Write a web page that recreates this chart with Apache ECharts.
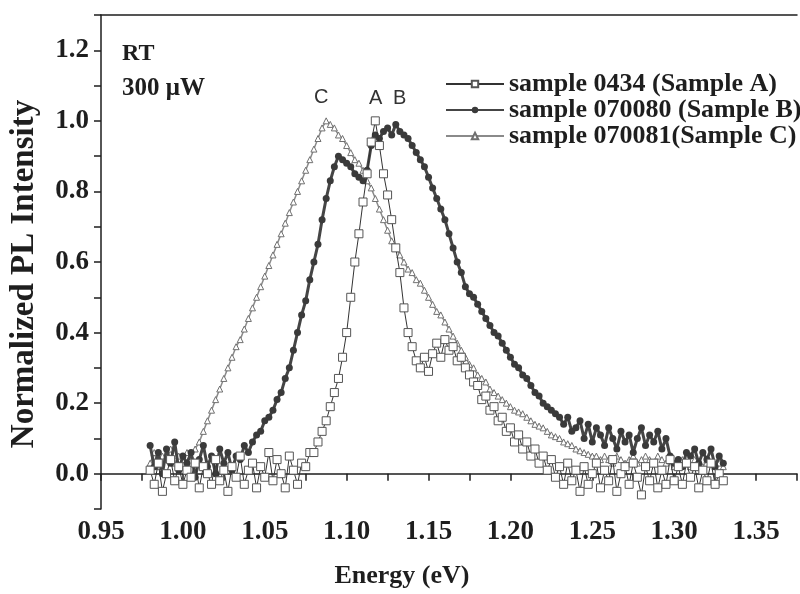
<!DOCTYPE html>
<html>
<head>
<meta charset="utf-8">
<script src="https://cdn.jsdelivr.net/npm/echarts@6/dist/echarts.min.js"></script>
<style>
  html, body { margin: 0; padding: 0; background: #fff; }
  #main { width: 800px; height: 594px; }
</style>
</head>
<body>
<div id="main"></div>
<script>
// photon energy (eV), shared by the three spectra
var energy = [
  0.980, 0.9825, 0.985, 0.9875, 0.990, 0.9925, 0.995, 0.9975, 1.000, 1.0025,
  1.005, 1.0075, 1.010, 1.0125, 1.015, 1.0175, 1.020, 1.0225, 1.025, 1.0275,
  1.030, 1.0325, 1.035, 1.0375, 1.040, 1.0425, 1.045, 1.0475, 1.050, 1.0525,
  1.055, 1.0575, 1.060, 1.0625, 1.065, 1.0675, 1.070, 1.0725, 1.075, 1.0775,
  1.080, 1.0825, 1.085, 1.0875, 1.090, 1.0925, 1.095, 1.0975, 1.100, 1.1025,
  1.105, 1.1075, 1.110, 1.1125, 1.115, 1.1175, 1.120, 1.1225, 1.125, 1.1275,
  1.130, 1.1325, 1.135, 1.1375, 1.140, 1.1425, 1.145, 1.1475, 1.150, 1.1525,
  1.155, 1.1575, 1.160, 1.1625, 1.165, 1.1675, 1.170, 1.1725, 1.175, 1.1775,
  1.180, 1.1825, 1.185, 1.1875, 1.190, 1.1925, 1.195, 1.1975, 1.200, 1.2025,
  1.205, 1.2075, 1.210, 1.2125, 1.215, 1.2175, 1.220, 1.2225, 1.225, 1.2275,
  1.230, 1.2325, 1.235, 1.2375, 1.240, 1.2425, 1.245, 1.2475, 1.250, 1.2525,
  1.255, 1.2575, 1.260, 1.2625, 1.265, 1.2675, 1.270, 1.2725, 1.275, 1.2775,
  1.280, 1.2825, 1.285, 1.2875, 1.290, 1.2925, 1.295, 1.2975, 1.300, 1.3025,
  1.305, 1.3075, 1.310, 1.3125, 1.315, 1.3175, 1.320, 1.3225, 1.325, 1.3275,
  1.330
];

// sample 0434 (Sample A) - open squares
var sampleA = [
  0.01, -0.03, 0.03, -0.05, 0.00, 0.04, -0.02, 0.02, -0.03, 0.01,
  -0.01, 0.03, -0.04, 0.02, 0.00, -0.03, 0.04, -0.02, 0.01, -0.05,
  0.02, -0.01, 0.05, -0.03, 0.01, 0.03, -0.04, 0.02, -0.01, 0.06,
  -0.02, 0.04, 0.00, -0.04, 0.05, 0.01, -0.03, 0.03, 0.02, 0.06,
  0.06, 0.09, 0.12, 0.15, 0.19, 0.23, 0.27, 0.33, 0.40, 0.50,
  0.60, 0.68, 0.77, 0.85, 0.94, 1.00, 0.93, 0.85, 0.79, 0.72,
  0.64, 0.57, 0.47, 0.40, 0.36, 0.32, 0.30, 0.33, 0.29, 0.34,
  0.37, 0.33, 0.38, 0.35, 0.36, 0.32, 0.33, 0.30, 0.28, 0.26,
  0.25, 0.21, 0.22, 0.18, 0.19, 0.15, 0.16, 0.12, 0.13, 0.09,
  0.11, 0.07, 0.09, 0.05, 0.07, 0.03, 0.05, 0.01, 0.04, -0.01,
  0.02, -0.03, 0.03, -0.02, 0.01, -0.05, 0.02, -0.03, 0.00, 0.03,
  -0.04, 0.01, -0.02, 0.04, -0.05, 0.00, 0.02, -0.03, 0.03, -0.01,
  -0.06, 0.02, -0.02, 0.03, -0.04, 0.01, -0.03, 0.04, -0.02, 0.02,
  -0.03, 0.03, -0.01, 0.02, -0.04, 0.01, -0.02, 0.03, -0.03, 0.00,
  -0.02
];

// sample 070080 (Sample B) - filled circles
var sampleB = [
  0.08, 0.02, 0.06, 0.00, 0.07, 0.03, 0.09, 0.01, 0.05, 0.03,
  0.06, -0.01, 0.04, 0.08, 0.02, 0.05, 0.00, 0.07, 0.03, 0.06,
  0.01, 0.05, 0.04, 0.08, 0.06, 0.09, 0.11, 0.12, 0.15, 0.16,
  0.18, 0.21, 0.23, 0.27, 0.30, 0.35, 0.40, 0.45, 0.49, 0.55,
  0.60, 0.65, 0.72, 0.78, 0.83, 0.87, 0.90, 0.89, 0.88, 0.87,
  0.85, 0.84, 0.83, 0.86, 0.93, 0.96, 0.95, 0.97, 0.98, 0.96,
  0.99, 0.97, 0.96, 0.95, 0.93, 0.91, 0.89, 0.87, 0.84, 0.81,
  0.78, 0.75, 0.72, 0.68, 0.64, 0.60, 0.57, 0.53, 0.51, 0.50,
  0.48, 0.46, 0.44, 0.42, 0.40, 0.39, 0.37, 0.35, 0.33, 0.31,
  0.30, 0.28, 0.27, 0.25, 0.23, 0.22, 0.20, 0.19, 0.18, 0.17,
  0.16, 0.14, 0.16, 0.12, 0.13, 0.15, 0.10, 0.14, 0.09, 0.13,
  0.11, 0.08, 0.13, 0.10, 0.07, 0.12, 0.09, 0.11, 0.06, 0.10,
  0.13, 0.08, 0.11, 0.09, 0.12, 0.07, 0.10, 0.05, 0.03, 0.04,
  0.02, 0.06, 0.05, 0.07, 0.03, 0.06, 0.04, 0.07, 0.02, 0.05,
  0.03
];

// sample 070081 (Sample C) - open triangles
var sampleC = [
  0.03, 0.06, 0.02, 0.05, 0.04, 0.07, 0.03, 0.05, 0.04, 0.06,
  0.05, 0.07, 0.09, 0.12, 0.15, 0.18, 0.21, 0.24, 0.27, 0.30,
  0.33, 0.36, 0.38, 0.41, 0.44, 0.47, 0.50, 0.53, 0.56, 0.59,
  0.62, 0.65, 0.68, 0.71, 0.74, 0.77, 0.80, 0.83, 0.86, 0.89,
  0.92, 0.95, 0.98, 1.00, 0.99, 0.98, 0.96, 0.95, 0.93, 0.91,
  0.89, 0.88, 0.86, 0.83, 0.81, 0.78, 0.75, 0.72, 0.69, 0.66,
  0.64, 0.62, 0.60, 0.58, 0.57, 0.55, 0.54, 0.52, 0.50, 0.48,
  0.46, 0.45, 0.43, 0.41, 0.39, 0.37, 0.35, 0.33, 0.31, 0.30,
  0.28, 0.27, 0.26, 0.24, 0.23, 0.22, 0.21, 0.20, 0.19, 0.18,
  0.175, 0.17, 0.16, 0.15, 0.14, 0.135, 0.13, 0.12, 0.11, 0.105,
  0.10, 0.09, 0.085, 0.08, 0.07, 0.065, 0.06, 0.055, 0.05, 0.05,
  0.04, 0.05, 0.04, 0.03, 0.05, 0.04, 0.03, 0.04, 0.05, 0.03,
  0.04, 0.05, 0.04, 0.03, 0.05, 0.04, 0.03, 0.04, 0.02, 0.03,
  0.04, 0.03, 0.02, 0.04, 0.03, 0.02, 0.04, 0.03, 0.02, 0.03,
  0.02
];

var names = ['sample 0434 (Sample A)', 'sample 070080 (Sample B)', 'sample 070081(Sample C)'];

function pairs(ys) {
  return energy.map(function (e, i) { return [e, ys[i]]; });
}

var serif = '"Liberation Serif", "Times New Roman", serif';
var sans = '"Liberation Sans", Arial, sans-serif';
var ink = '#1e1e1e';

var myChart = echarts.init(document.getElementById('main'));

var option = {
  backgroundColor: '#fff',
  animation: false,
  grid: { left: 100, right: 0, top: 15, bottom: 85 },
  legend: {
    data: names,
    orient: 'vertical',
    left: 440,
    top: 66,
    itemWidth: 58,
    itemHeight: 8,
    itemGap: 0,
    textStyle: { fontFamily: serif, fontWeight: 'bold', fontSize: 26, color: ink, lineHeight: 23 }
  },
  xAxis: [
    {
      type: 'value',
      min: 0.95,
      max: 1.375,
      interval: 0.025,
      name: 'Energy (eV)',
      nameLocation: 'middle',
      nameGap: 54,
      nameTextStyle: { fontFamily: serif, fontWeight: 'bold', fontSize: 26, color: ink, padding: [0, 94, 0, 0] },
      axisLine: { lineStyle: { color: ink, width: 1.5 } },
      axisTick: { inside: false, length: 7, lineStyle: { color: ink, width: 1.5 } },
      axisLabel: {
        margin: 10,
        fontFamily: serif, fontWeight: 'bold', fontSize: 27, color: ink,
        formatter: function (v) {
          return Math.round(v * 1000) % 50 === 0 ? v.toFixed(2) : '';
        }
      },
      splitLine: { show: false }
    },
    {
      type: 'value',
      position: 'top',
      min: 0.95,
      max: 1.375,
      axisLine: { show: true, lineStyle: { color: ink, width: 1.5 } },
      axisTick: { show: false },
      axisLabel: { show: false },
      splitLine: { show: false }
    }
  ],
  yAxis: {
    type: 'value',
    min: -0.1,
    max: 1.3,
    interval: 0.1,
    name: 'Normalized PL Intensity',
    nameLocation: 'middle',
    nameGap: 60,
    nameTextStyle: { fontFamily: serif, fontWeight: 'bold', fontSize: 33, color: ink, padding: [0, 24, 0, 0] },
    axisLine: { show: true, lineStyle: { color: ink, width: 1.5 } },
    axisTick: { inside: false, length: 7, lineStyle: { color: ink, width: 1.5 } },
    axisLabel: {
      margin: 12,
      fontFamily: serif, fontWeight: 'bold', fontSize: 27, color: ink,
      formatter: function (v) {
        var k = Math.round(v * 10);
        return (k % 2 === 0 && k >= 0 && k <= 12) ? v.toFixed(1) : '';
      }
    },
    splitLine: { show: false }
  },
  graphic: [
    { type: 'text', left: 122, top: 42, style: { text: 'RT', fontFamily: serif, fontWeight: 'bold', fontSize: 24, fill: ink } },
    { type: 'text', left: 122, top: 76, style: { text: '300 μW', fontFamily: serif, fontWeight: 'bold', fontSize: 25, fill: ink } },
    { type: 'text', left: 314, top: 87, style: { text: 'C', fontFamily: sans, fontSize: 20, fill: '#333' } },
    { type: 'text', left: 369, top: 88, style: { text: 'A', fontFamily: sans, fontSize: 20, fill: '#333' } },
    { type: 'text', left: 393, top: 88, style: { text: 'B', fontFamily: sans, fontSize: 20, fill: '#333' } }
  ],
  series: [
    {
      name: names[2],
      type: 'line',
      data: pairs(sampleC),
      symbol: 'triangle',
      symbolSize: 6,
      itemStyle: { color: '#fff', borderColor: '#707070', borderWidth: 1 },
      lineStyle: { color: '#8a8a8a', width: 1.5 },
      z: 2
    },
    {
      name: names[1],
      type: 'line',
      data: pairs(sampleB),
      symbol: 'circle',
      symbolSize: 7,
      itemStyle: { color: '#3a3a3a', borderColor: '#3a3a3a', borderWidth: 0 },
      lineStyle: { color: '#454545', width: 3 },
      z: 3
    },
    {
      name: names[0],
      type: 'line',
      data: pairs(sampleA),
      symbol: 'rect',
      symbolSize: 8,
      itemStyle: { color: '#fff', borderColor: '#555', borderWidth: 1 },
      lineStyle: { color: '#333', width: 1 },
      z: 4
    }
  ]
};

myChart.setOption(option);
</script>
</body>
</html>
